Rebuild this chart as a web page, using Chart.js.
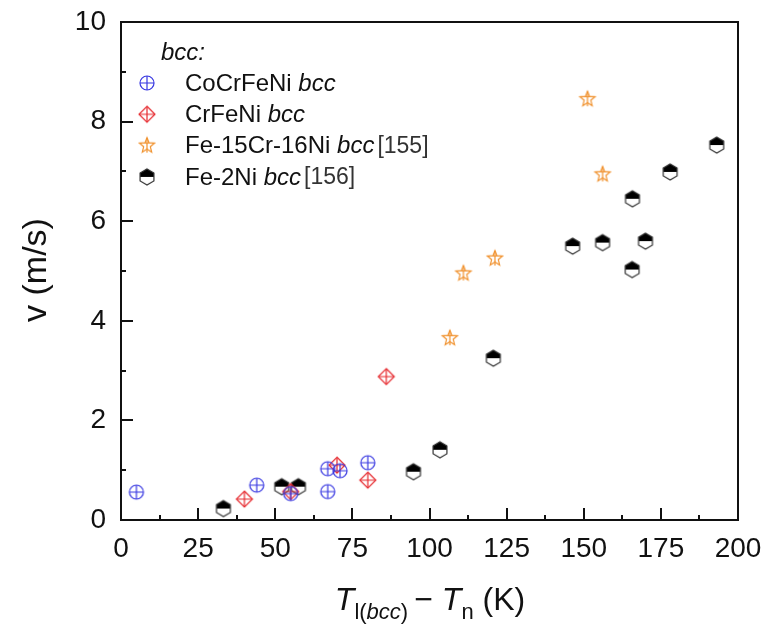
<!DOCTYPE html>
<html>
<head>
<meta charset="utf-8">
<script src="https://cdn.jsdelivr.net/npm/chart.js@4"></script>
<style>
  body { margin: 0; background: #fff; }
</style>
</head>
<body>
<canvas id="chart" width="767" height="630"></canvas>
<script>
// data
var coCrFeNiX = [5, 44, 55, 67, 71, 67, 80];
var coCrFeNiY = [0.56, 0.70, 0.53, 1.03, 0.99, 0.57, 1.15];

var crFeNiX = [40, 55, 70, 80, 86];
var crFeNiY = [0.42, 0.57, 1.10, 0.80, 2.88];

var fe15X = [106.6, 111, 121.2, 151.2, 156.1];
var fe15Y = [3.65, 4.95, 5.25, 8.45, 6.94];

var fe2NiX = [33.2, 52.1, 57.5, 94.8, 103.4, 120.7, 146.4, 156.1, 165.7, 165.8, 170, 178, 193.1];
var fe2NiY = [0.23, 0.67, 0.67, 0.97, 1.41, 3.25, 5.50, 5.57, 5.03, 6.45, 5.60, 6.99, 7.53];

var xTicks = ['0', '25', '50', '75', '100', '125', '150', '175', '200'];
var yTicks = ['0', '2', '4', '6', '8', '10'];

var blue = 'rgb(55, 55, 225)';
var red = 'rgb(230, 40, 45)';
var orange = 'rgb(240, 145, 45)';
var black = '#111';
var fontName = '"Liberation Sans", Arial, sans-serif';

function pts(xs, ys) {
    return xs.map(function (x, i) { return { x: x, y: ys[i] }; });
}

// marker images
function makeCanvas(draw) {
    var c = document.createElement('canvas');
    c.width = 22; c.height = 22;
    var g = c.getContext('2d');
    g.translate(11, 11);
    draw(g);
    return c;
}

var circlePlus = makeCanvas(function (g) {
    g.strokeStyle = blue; g.lineWidth = 1.2;
    g.beginPath(); g.arc(0, 0, 7, 0, Math.PI * 2); g.stroke();
    g.beginPath(); g.moveTo(-7, 0); g.lineTo(7, 0); g.moveTo(0, -7); g.lineTo(0, 7); g.stroke();
});

var diamondPlus = makeCanvas(function (g) {
    g.strokeStyle = red; g.lineWidth = 1.2;
    g.beginPath(); g.moveTo(0, -8); g.lineTo(8, 0); g.lineTo(0, 8); g.lineTo(-8, 0); g.closePath(); g.stroke();
    g.beginPath(); g.moveTo(-8, 0); g.lineTo(8, 0); g.moveTo(0, -8); g.lineTo(0, 8); g.stroke();
});

var starPlus = makeCanvas(function (g) {
    g.strokeStyle = orange; g.lineWidth = 1.2;
    g.beginPath();
    for (var i = 0; i < 10; i++) {
        var r = i % 2 === 0 ? 8 : 3.5;
        var a = -Math.PI / 2 + i * Math.PI / 5;
        if (i === 0) g.moveTo(r * Math.cos(a), r * Math.sin(a));
        else g.lineTo(r * Math.cos(a), r * Math.sin(a));
    }
    g.closePath(); g.stroke();
    g.beginPath(); g.moveTo(-7, -2.5); g.lineTo(7, -2.5); g.moveTo(0, -8); g.lineTo(0, 7); g.stroke();
});

var halfHex = makeCanvas(function (g) {
    var r = 8;
    var p = [];
    for (var i = 0; i < 6; i++) {
        var a = -Math.PI / 2 + i * Math.PI / 3;
        p.push([r * Math.cos(a), r * Math.sin(a)]);
    }
    g.fillStyle = '#fff';
    g.beginPath(); g.moveTo(p[0][0], p[0][1]);
    for (var j = 1; j < 6; j++) g.lineTo(p[j][0], p[j][1]);
    g.closePath(); g.fill();
    g.fillStyle = '#000';
    g.beginPath(); g.moveTo(-r * 0.866, 0); g.lineTo(p[5][0], p[5][1]); g.lineTo(p[0][0], p[0][1]);
    g.lineTo(p[1][0], p[1][1]); g.lineTo(r * 0.866, 0); g.closePath(); g.fill();
    g.strokeStyle = '#333'; g.lineWidth = 1.2;
    g.beginPath(); g.moveTo(p[0][0], p[0][1]);
    for (var k = 1; k < 6; k++) g.lineTo(p[k][0], p[k][1]);
    g.closePath(); g.stroke();
});

// keep the plot box where the layout padding puts it
function noOverflow(s) {
    s.paddingTop = 0; s.paddingBottom = 0; s.paddingLeft = 0; s.paddingRight = 0;
}

// legend, frame, ticks and titles drawn by hand
var decorations = {
    id: 'decorations',
    afterDraw: function (chart) {
        var ctx = chart.ctx;
        var a = chart.chartArea;
        var xs = chart.scales.x, ys = chart.scales.y;
        ctx.save();
        ctx.strokeStyle = black;
        ctx.lineWidth = 2;
        ctx.strokeRect(a.left, a.top, a.right - a.left, a.bottom - a.top);

        ctx.beginPath();
        for (var v = 0; v <= 200; v += 12.5) {
            var px = Math.round(xs.getPixelForValue(v));
            var len = v % 25 === 0 ? 12 : 5;
            ctx.moveTo(px, a.bottom); ctx.lineTo(px, a.bottom - len);
        }
        for (var w = 0; w <= 10; w += 1) {
            var py = Math.round(ys.getPixelForValue(w));
            var l2 = w % 2 === 0 ? 12 : 5;
            ctx.moveTo(a.left, py); ctx.lineTo(a.left + l2, py);
        }
        ctx.stroke();

        // legend
        ctx.fillStyle = black;
        ctx.textBaseline = 'middle';
        ctx.textAlign = 'left';
        ctx.font = 'italic 24px ' + fontName;
        ctx.fillText('bcc:', 161, 53);
        var rows = [
            [circlePlus, [['CoCrFeNi ', ''], ['bcc', 'italic ']]],
            [diamondPlus, [['CrFeNi ', ''], ['bcc', 'italic ']]],
            [starPlus, [['Fe-15Cr-16Ni ', ''], ['bcc', 'italic '], ['[155]', '']]],
            [halfHex, [['Fe-2Ni ', ''], ['bcc', 'italic '], ['[156]', '']]]
        ];
        rows.forEach(function (row, i) {
            var y = 84 + i * 31.3;
            ctx.drawImage(row[0], 147 - 11, y - 12);
            var tx = 185;
            row[1].forEach(function (part) {
                var br = part[0].charAt(0) === '[';
                ctx.font = part[1] + (br ? '23px ' : '24px ') + fontName;
                ctx.fillStyle = br ? '#333' : black;
                ctx.fillText(part[0], tx, y);
                tx += ctx.measureText(part[0]).width + (part[1] ? 3 : 0);
            });
        });

        // y title
        ctx.fillStyle = black;
        ctx.save();
        ctx.translate(37, 270);
        ctx.rotate(-Math.PI / 2);
        ctx.textAlign = 'center';
        ctx.textBaseline = 'middle';
        ctx.font = '34px ' + fontName;
        ctx.fillText('v (m/s)', 0, 0);
        ctx.restore();

        // x title
        var parts = [
            ['T', 'italic 32px', 0],
            ['l(', '22px', 9],
            ['bcc', 'italic 22px', 9],
            [') ', '22px', 9],
            ['\u2212 ', '32px', 0],
            ['T', 'italic 32px', 0],
            ['n', '22px', 9],
            [' (K)', '32px', 0]
        ];
        ctx.textBaseline = 'alphabetic';
        var total = 0;
        parts.forEach(function (p) { ctx.font = p[1] + ' ' + fontName; total += ctx.measureText(p[0]).width; });
        var x0 = 430 - total / 2;
        parts.forEach(function (p) {
            ctx.font = p[1] + ' ' + fontName;
            ctx.fillText(p[0], x0, 610 + p[2]);
            x0 += ctx.measureText(p[0]).width;
        });
        ctx.restore();
    }
};

var ctx = document.getElementById('chart').getContext('2d');
var chart = new Chart(ctx, {
    type: 'scatter',
    data: {
        datasets: [
            { label: 'CoCrFeNi bcc', data: pts(coCrFeNiX, coCrFeNiY), pointStyle: circlePlus },
            { label: 'CrFeNi bcc', data: pts(crFeNiX, crFeNiY), pointStyle: diamondPlus },
            { label: 'Fe-15Cr-16Ni bcc [155]', data: pts(fe15X, fe15Y), pointStyle: starPlus },
            { label: 'Fe-2Ni bcc [156]', data: pts(fe2NiX, fe2NiY), pointStyle: halfHex }
        ]
    },
    options: {
        responsive: false,
        animation: false,
        layout: { padding: { top: 22, right: 29, left: 0, bottom: 0 } },
        plugins: { legend: { display: false }, tooltip: { enabled: false } },
        scales: {
            x: {
                type: 'linear', min: 0, max: 200,
                grid: { display: false, drawTicks: false },
                border: { display: false },
                afterFit: function (s) { s.height = 110; noOverflow(s); },
                afterBuildTicks: function (s) { s.ticks = xTicks.map(function (t) { return { value: +t }; }); },
                ticks: {
                    autoSkip: false, maxRotation: 0, padding: 12, color: black,
                    font: { family: fontName, size: 28 },
                    callback: function (v) { return String(v); }
                }
            },
            y: {
                min: 0, max: 10,
                grid: { display: false, drawTicks: false },
                border: { display: false },
                afterFit: function (s) { s.width = 121; noOverflow(s); },
                afterBuildTicks: function (s) { s.ticks = yTicks.map(function (t) { return { value: +t }; }); },
                ticks: {
                    padding: 15, color: black,
                    font: { family: fontName, size: 28 },
                    callback: function (v) { return String(v); }
                }
            }
        }
    },
    plugins: [decorations]
});
</script>
</body>
</html>
